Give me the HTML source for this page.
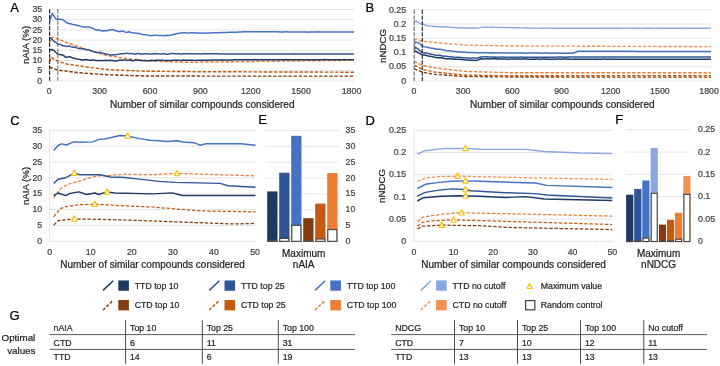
<!DOCTYPE html>
<html><head><meta charset="utf-8"><style>
html,body{margin:0;padding:0;background:#fff;}
body{width:720px;height:366px;overflow:hidden;}
svg{display:block;font-family:"Liberation Sans", sans-serif;will-change:transform;}
</style></head><body>
<svg width="720" height="366" viewBox="0 0 720 366" font-family='"Liberation Sans", sans-serif'>
<text x="10.30" y="11.80" font-size="13" text-anchor="start" fill="#000" stroke="#000" stroke-width="0.22" >A</text>
<line x1="49.50" y1="80.90" x2="354.00" y2="80.90" stroke="#DEDEDE" stroke-width="0.8" />
<text x="42.20" y="83.60" font-size="8.8" text-anchor="end" fill="#404040" stroke="#404040" stroke-width="0.22" >0</text>
<line x1="49.50" y1="70.70" x2="354.00" y2="70.70" stroke="#DEDEDE" stroke-width="0.8" />
<text x="42.20" y="73.40" font-size="8.8" text-anchor="end" fill="#404040" stroke="#404040" stroke-width="0.22" >5</text>
<line x1="49.50" y1="60.50" x2="354.00" y2="60.50" stroke="#DEDEDE" stroke-width="0.8" />
<text x="42.20" y="63.20" font-size="8.8" text-anchor="end" fill="#404040" stroke="#404040" stroke-width="0.22" >10</text>
<line x1="49.50" y1="50.30" x2="354.00" y2="50.30" stroke="#DEDEDE" stroke-width="0.8" />
<text x="42.20" y="53.00" font-size="8.8" text-anchor="end" fill="#404040" stroke="#404040" stroke-width="0.22" >15</text>
<line x1="49.50" y1="40.10" x2="354.00" y2="40.10" stroke="#DEDEDE" stroke-width="0.8" />
<text x="42.20" y="42.80" font-size="8.8" text-anchor="end" fill="#404040" stroke="#404040" stroke-width="0.22" >20</text>
<line x1="49.50" y1="29.90" x2="354.00" y2="29.90" stroke="#DEDEDE" stroke-width="0.8" />
<text x="42.20" y="32.60" font-size="8.8" text-anchor="end" fill="#404040" stroke="#404040" stroke-width="0.22" >25</text>
<line x1="49.50" y1="19.70" x2="354.00" y2="19.70" stroke="#DEDEDE" stroke-width="0.8" />
<text x="42.20" y="22.40" font-size="8.8" text-anchor="end" fill="#404040" stroke="#404040" stroke-width="0.22" >30</text>
<line x1="49.50" y1="9.50" x2="354.00" y2="9.50" stroke="#DEDEDE" stroke-width="0.8" />
<text x="42.20" y="12.20" font-size="8.8" text-anchor="end" fill="#404040" stroke="#404040" stroke-width="0.22" >35</text>
<text x="49.30" y="94.40" font-size="8.8" text-anchor="middle" fill="#404040" stroke="#404040" stroke-width="0.22" >0</text>
<text x="99.67" y="94.40" font-size="8.8" text-anchor="middle" fill="#404040" stroke="#404040" stroke-width="0.22" >300</text>
<text x="150.03" y="94.40" font-size="8.8" text-anchor="middle" fill="#404040" stroke="#404040" stroke-width="0.22" >600</text>
<text x="200.40" y="94.40" font-size="8.8" text-anchor="middle" fill="#404040" stroke="#404040" stroke-width="0.22" >900</text>
<text x="250.77" y="94.40" font-size="8.8" text-anchor="middle" fill="#404040" stroke="#404040" stroke-width="0.22" >1200</text>
<text x="301.13" y="94.40" font-size="8.8" text-anchor="middle" fill="#404040" stroke="#404040" stroke-width="0.22" >1500</text>
<text x="351.50" y="94.40" font-size="8.8" text-anchor="middle" fill="#404040" stroke="#404040" stroke-width="0.22" >1800</text>
<text x="202.20" y="107.60" font-size="10" text-anchor="middle" fill="#1e1e1e" stroke="#1e1e1e" stroke-width="0.22" >Number of similar compounds considered</text>
<text x="0" y="0" font-size="9.7" text-anchor="middle" fill="#1e1e1e" stroke="#1e1e1e" stroke-width="0.22" transform="translate(29,45) rotate(-90)">nAIA (%)</text>
<polyline points="49.50,67.20 57.70,70.00 77.80,72.70 110.00,74.90 145.00,76.00 200.00,76.10 354.00,76.10" fill="none" stroke="#843C0C" stroke-width="1.45" stroke-dasharray="3.4,1.7" stroke-linejoin="round"/>
<polyline points="49.50,61.80 51.00,57.40 57.70,61.30 66.80,64.00 88.00,67.20 110.00,69.80 145.00,71.20 200.00,71.70 354.00,72.20" fill="none" stroke="#C55A11" stroke-width="1.45" stroke-dasharray="3.4,1.7" stroke-linejoin="round"/>
<polyline points="49.50,43.20 50.50,39.00 52.00,37.30 57.70,38.80 66.80,42.60 77.80,46.50 90.90,50.90 106.00,55.20 121.00,57.80 145.00,60.70 183.80,62.30 249.40,61.50 354.00,60.30" fill="none" stroke="#ED7D31" stroke-width="1.45" stroke-dasharray="3.4,1.7" stroke-linejoin="round"/>
<polyline points="49.50,49.89 50.75,49.66 52.00,49.49 53.00,49.86 54.00,50.57 55.23,51.76 56.47,52.93 57.70,54.08 58.78,54.26 59.85,54.62 60.92,54.81 62.00,54.76 63.20,55.46 64.40,56.13 65.60,57.20 66.80,57.25 68.10,56.88 69.40,56.69 70.70,57.05 72.00,57.58 73.16,58.02 74.32,58.48 75.48,58.55 76.64,58.88 77.80,59.11 79.02,59.22 80.24,59.61 81.46,59.75 82.68,60.22 83.90,59.87 85.12,59.73 86.34,59.55 87.56,59.76 88.78,60.12 90.00,60.34 91.25,60.34 92.50,60.11 93.75,60.04 95.00,60.40 96.25,60.49 97.50,60.69 98.75,60.61 100.00,60.56 101.18,60.51 102.35,60.64 103.53,60.53 104.71,60.46 105.88,60.20 107.06,60.39 108.24,60.51 109.41,60.50 110.59,60.37 111.76,60.41 112.94,60.51 114.12,60.87 115.29,60.95 116.47,60.88 117.65,60.73 118.82,60.29 120.00,60.31 121.19,60.21 122.38,60.33 123.57,60.06 124.76,60.01 125.95,60.00 127.14,60.37 128.33,60.22 129.52,60.09 130.71,59.95 131.90,60.43 133.10,60.71 134.29,60.42 135.48,59.89 136.67,59.87 137.86,60.02 139.05,60.21 140.24,60.29 141.43,60.52 142.62,60.68 143.81,60.59 145.00,60.50 146.20,60.67 147.39,60.71 148.59,60.71 149.78,60.58 150.98,60.32 152.17,60.40 153.37,60.44 154.57,60.67 155.76,60.31 156.96,60.13 158.15,60.16 159.35,60.18 160.54,60.22 161.74,60.24 162.93,60.29 164.13,60.46 165.33,60.41 166.52,60.52 167.72,60.39 168.91,60.39 170.11,60.41 171.30,60.48 172.50,60.35 173.70,60.30 174.89,60.29 176.09,60.34 177.28,60.30 178.48,60.29 179.67,60.40 180.87,60.43 182.07,60.24 183.26,60.11 184.46,60.13 185.65,60.21 186.85,60.32 188.04,60.25 189.24,60.35 190.43,60.16 191.63,60.18 192.83,60.13 194.02,60.28 195.22,60.38 196.41,60.36 197.61,60.29 198.80,60.24 200.00,60.25 201.19,60.22 202.38,60.21 203.57,60.20 204.76,60.20 205.95,60.21 207.14,60.19 208.33,60.28 209.52,60.24 210.71,60.18 211.90,60.06 213.10,60.03 214.29,60.08 215.48,60.07 216.67,60.07 217.86,60.09 219.05,60.00 220.24,59.93 221.43,59.87 222.62,59.96 223.81,59.99 225.00,59.96 226.19,59.95 227.38,59.94 228.57,59.93 229.76,59.96 230.95,59.95 232.14,59.94 233.33,59.86 234.52,59.83 235.71,59.83 236.90,59.75 238.10,59.73 239.29,59.75 240.48,59.78 241.67,59.78 242.86,59.76 244.05,59.81 245.24,59.84 246.43,59.75 247.62,59.71 248.81,59.64 250.00,59.70 251.20,59.74 252.39,59.67 253.59,59.69 254.78,59.61 255.98,59.71 257.17,59.64 258.37,59.68 259.56,59.70 260.76,59.73 261.95,59.73 263.15,59.72 264.34,59.73 265.54,59.72 266.74,59.74 267.93,59.77 269.13,59.76 270.32,59.80 271.52,59.74 272.71,59.77 273.91,59.69 275.10,59.72 276.30,59.72 277.49,59.73 278.69,59.74 279.89,59.68 281.08,59.63 282.28,59.63 283.47,59.65 284.67,59.66 285.86,59.60 287.06,59.67 288.25,59.72 289.45,59.80 290.64,59.74 291.84,59.72 293.03,59.64 294.23,59.69 295.43,59.73 296.62,59.74 297.82,59.76 299.01,59.75 300.21,59.77 301.40,59.67 302.60,59.68 303.79,59.68 304.99,59.72 306.18,59.69 307.38,59.71 308.57,59.76 309.77,59.72 310.97,59.75 312.16,59.74 313.36,59.81 314.55,59.78 315.75,59.71 316.94,59.70 318.14,59.71 319.33,59.74 320.53,59.75 321.72,59.74 322.92,59.67 324.11,59.62 325.31,59.57 326.51,59.66 327.70,59.68 328.90,59.71 330.09,59.69 331.29,59.71 332.48,59.73 333.68,59.76 334.87,59.74 336.07,59.76 337.26,59.77 338.46,59.82 339.66,59.77 340.85,59.75 342.05,59.65 343.24,59.64 344.44,59.56 345.63,59.64 346.83,59.64 348.02,59.70 349.22,59.66 350.41,59.69 351.61,59.68 352.80,59.69 354.00,59.68" fill="none" stroke="#203864" stroke-width="1.5" stroke-linejoin="round"/>
<polyline points="49.50,37.34 50.75,38.40 52.00,39.36 53.50,40.80 55.00,41.90 56.35,42.70 57.70,44.13 58.78,44.22 59.85,44.39 60.92,44.55 62.00,45.26 63.20,45.77 64.40,46.10 65.60,46.34 66.80,46.46 68.10,46.08 69.40,46.04 70.70,46.61 72.00,46.94 73.16,47.23 74.32,47.22 75.48,47.37 76.64,47.87 77.80,48.13 79.04,48.67 80.28,48.39 81.52,48.85 82.76,48.82 84.00,49.06 85.17,49.38 86.33,49.68 87.50,49.86 88.67,49.80 89.83,50.14 91.00,50.71 92.12,51.21 93.25,51.49 94.38,51.90 95.50,52.01 96.62,52.31 97.75,52.51 98.88,52.73 100.00,52.33 101.25,52.66 102.50,53.10 103.75,53.69 105.00,53.74 106.25,54.13 107.50,54.18 108.75,54.62 110.00,54.98 111.25,55.01 112.50,54.93 113.75,54.74 115.00,54.75 116.25,54.62 117.50,54.36 118.75,54.13 120.00,53.92 121.25,53.72 122.50,53.87 123.75,53.77 125.00,53.59 126.18,53.34 127.35,53.31 128.53,53.48 129.71,53.66 130.88,53.61 132.06,53.39 133.24,53.76 134.41,54.04 135.59,54.25 136.76,53.57 137.94,53.52 139.12,53.52 140.29,54.08 141.47,54.07 142.65,54.02 143.82,53.89 145.00,53.62 146.20,53.75 147.39,53.73 148.59,53.88 149.78,53.91 150.98,54.08 152.17,54.00 153.37,53.77 154.57,53.60 155.76,53.78 156.96,53.81 158.15,53.67 159.35,53.88 160.54,54.03 161.74,54.00 162.93,53.65 164.13,53.72 165.33,53.93 166.52,54.24 167.72,54.15 168.91,53.97 170.11,53.82 171.30,53.55 172.50,53.56 173.70,53.54 174.89,53.78 176.09,53.78 177.28,53.77 178.48,53.77 179.67,53.86 180.87,53.92 182.07,53.90 183.26,53.84 184.46,53.85 185.65,53.84 186.85,53.80 188.04,53.70 189.24,53.70 190.43,53.75 191.63,53.80 192.83,53.80 194.02,53.82 195.22,53.80 196.41,53.72 197.61,53.74 198.80,53.81 200.00,53.91 201.19,53.88 202.38,53.85 203.57,53.78 204.76,53.69 205.95,53.68 207.14,53.69 208.33,53.83 209.52,53.78 210.71,53.71 211.90,53.64 213.10,53.76 214.29,53.86 215.48,53.86 216.67,53.77 217.86,53.81 219.05,53.89 220.24,53.92 221.43,53.96 222.62,53.96 223.81,53.96 225.00,53.94 226.19,53.97 227.38,54.00 228.57,54.02 229.76,53.94 230.95,53.92 232.14,53.91 233.33,53.94 234.52,53.98 235.71,53.98 236.90,54.02 238.10,53.99 239.29,54.05 240.48,54.06 241.67,54.07 242.86,54.00 244.05,54.05 245.24,54.05 246.43,54.07 247.62,54.03 248.81,54.05 250.00,53.99 251.20,53.97 252.39,53.98 253.59,54.05 254.78,54.06 255.98,54.05 257.17,54.05 258.37,54.04 259.56,54.04 260.76,54.02 261.95,54.00 263.15,54.01 264.34,53.98 265.54,53.97 266.74,53.95 267.93,53.94 269.13,53.95 270.32,53.89 271.52,53.91 272.71,53.94 273.91,54.01 275.10,54.03 276.30,54.01 277.49,53.95 278.69,54.01 279.89,54.03 281.08,54.10 282.28,54.02 283.47,54.00 284.67,53.92 285.86,53.97 287.06,54.00 288.25,53.99 289.45,53.97 290.64,53.96 291.84,53.97 293.03,53.92 294.23,53.87 295.43,53.90 296.62,53.91 297.82,53.94 299.01,53.97 300.21,54.03 301.40,54.04 302.60,54.08 303.79,54.09 304.99,54.04 306.18,53.98 307.38,53.92 308.57,53.93 309.77,53.94 310.97,53.97 312.16,54.01 313.36,53.97 314.55,53.93 315.75,53.92 316.94,53.96 318.14,53.99 319.33,53.98 320.53,53.97 321.72,54.00 322.92,54.01 324.11,54.03 325.31,53.99 326.51,53.97 327.70,53.90 328.90,53.89 330.09,53.90 331.29,53.93 332.48,53.96 333.68,53.97 334.87,53.97 336.07,53.96 337.26,53.95 338.46,54.00 339.66,54.02 340.85,54.03 342.05,53.99 343.24,53.97 344.44,53.97 345.63,54.01 346.83,54.03 348.02,54.01 349.22,53.95 350.41,53.93 351.61,53.93 352.80,53.94 354.00,53.92" fill="none" stroke="#2F5597" stroke-width="1.5" stroke-linejoin="round"/>
<polyline points="49.50,20.96 50.85,17.17 52.20,13.44 53.57,15.26 54.93,17.63 56.30,19.21 57.67,19.60 59.03,19.03 60.40,19.39 61.60,19.31 62.80,19.90 64.00,20.48 65.40,21.62 66.80,22.78 68.10,23.17 69.40,23.71 70.70,23.70 72.00,24.22 73.16,24.47 74.32,24.69 75.48,25.02 76.64,25.09 77.80,25.84 79.04,25.65 80.28,26.11 81.52,26.49 82.76,26.83 84.00,26.93 85.15,26.88 86.30,27.10 87.45,27.08 88.60,27.05 89.75,27.34 90.90,27.84 92.12,28.01 93.34,28.66 94.56,29.26 95.78,29.82 97.00,29.91 98.17,29.75 99.33,30.33 100.50,30.41 101.67,30.91 102.83,30.81 104.00,31.10 105.33,30.71 106.67,30.67 108.00,30.40 109.16,30.03 110.32,29.82 111.48,29.72 112.64,29.80 113.80,29.84 114.85,30.43 115.90,30.65 116.95,31.16 118.00,31.32 119.25,31.68 120.50,31.28 121.75,31.39 123.00,31.07 124.25,31.70 125.50,32.14 126.75,32.44 128.00,32.07 129.24,31.72 130.49,32.29 131.73,32.62 132.97,33.04 134.21,32.95 135.46,33.16 136.70,33.15 137.89,33.43 139.07,33.43 140.26,33.81 141.44,34.07 142.63,34.58 143.81,34.77 145.00,34.80 146.14,34.85 147.29,34.92 148.43,35.38 149.57,35.57 150.71,35.72 151.86,35.53 153.00,35.42 154.17,35.24 155.33,35.19 156.50,35.26 157.67,35.40 158.83,35.45 160.00,35.62 161.20,35.51 162.40,35.50 163.60,35.64 164.80,35.55 166.00,35.54 167.20,35.27 168.40,35.58 169.72,35.37 171.04,35.00 172.36,34.70 173.68,34.34 175.00,34.14 176.26,33.71 177.51,33.43 178.77,33.18 180.03,33.11 181.29,32.92 182.54,32.82 183.80,32.69 185.01,32.87 186.22,32.90 187.43,33.00 188.64,33.00 189.86,32.92 191.07,32.77 192.28,32.73 193.49,32.80 194.70,32.89 195.91,32.90 197.12,32.93 198.33,32.91 199.54,32.99 200.76,33.09 201.97,33.13 203.18,33.09 204.39,32.94 205.60,33.12 206.82,33.10 208.03,33.14 209.25,32.94 210.47,32.88 211.68,32.78 212.90,32.68 214.12,32.74 215.33,32.77 216.55,32.74 217.77,32.66 218.98,32.56 220.20,32.66 221.42,32.61 222.63,32.49 223.85,32.43 225.07,32.45 226.28,32.47 227.50,32.39 228.72,32.21 229.93,32.15 231.15,32.18 232.37,32.28 233.58,32.31 234.80,32.27 236.02,32.25 237.23,32.17 238.45,32.09 239.67,31.99 240.88,31.99 242.10,31.94 243.32,31.84 244.53,31.79 245.75,31.80 246.97,31.75 248.18,31.70 249.40,31.63 250.60,31.70 251.81,31.71 253.01,31.73 254.22,31.71 255.42,31.76 256.63,31.81 257.83,31.82 259.04,31.82 260.24,31.76 261.45,31.78 262.65,31.78 263.86,31.86 265.06,31.85 266.27,31.83 267.47,31.80 268.68,31.77 269.88,31.78 271.09,31.76 272.29,31.83 273.50,31.80 274.70,31.76 275.90,31.76 277.11,31.81 278.31,31.86 279.52,31.90 280.72,31.89 281.93,31.89 283.13,31.89 284.34,31.85 285.54,31.86 286.75,31.85 287.95,31.93 289.16,31.96 290.36,31.97 291.57,31.93 292.77,31.96 293.98,32.01 295.18,32.01 296.39,32.09 297.59,32.02 298.80,32.05 300.00,31.99 301.20,32.04 302.40,32.00 303.60,31.93 304.80,31.91 306.00,31.98 307.20,32.06 308.40,32.13 309.60,32.11 310.80,32.10 312.00,32.04 313.20,32.05 314.40,32.09 315.60,32.03 316.80,32.00 318.00,31.84 319.20,31.90 320.40,31.90 321.60,32.04 322.80,32.09 324.00,32.10 325.20,32.06 326.40,31.98 327.60,31.95 328.80,31.94 330.00,31.97 331.20,32.00 332.40,32.02 333.60,32.00 334.80,32.03 336.00,32.04 337.20,32.04 338.40,32.03 339.60,32.01 340.80,31.98 342.00,32.00 343.20,32.02 344.40,32.03 345.60,32.02 346.80,32.01 348.00,32.00 349.20,32.01 350.40,32.01 351.60,32.09 352.80,32.05 354.00,32.05" fill="none" stroke="#4472C4" stroke-width="1.5" stroke-linejoin="round"/>
<line x1="49.60" y1="9.20" x2="49.60" y2="80.80" stroke="#262626" stroke-width="1.2" stroke-dasharray="4.3,1.3" />
<line x1="57.80" y1="9.20" x2="57.80" y2="80.80" stroke="#7a7a7a" stroke-width="1.2" stroke-dasharray="4.3,1.3" />
<text x="365.50" y="11.80" font-size="13" text-anchor="start" fill="#000" stroke="#000" stroke-width="0.22" >B</text>
<line x1="414.00" y1="81.00" x2="711.00" y2="81.00" stroke="#DEDEDE" stroke-width="0.8" />
<text x="406.10" y="83.70" font-size="8.8" text-anchor="end" fill="#404040" stroke="#404040" stroke-width="0.22" >0</text>
<line x1="414.00" y1="66.76" x2="711.00" y2="66.76" stroke="#DEDEDE" stroke-width="0.8" />
<text x="406.10" y="69.46" font-size="8.8" text-anchor="end" fill="#404040" stroke="#404040" stroke-width="0.22" >0.05</text>
<line x1="414.00" y1="52.52" x2="711.00" y2="52.52" stroke="#DEDEDE" stroke-width="0.8" />
<text x="406.10" y="55.22" font-size="8.8" text-anchor="end" fill="#404040" stroke="#404040" stroke-width="0.22" >0.1</text>
<line x1="414.00" y1="38.28" x2="711.00" y2="38.28" stroke="#DEDEDE" stroke-width="0.8" />
<text x="406.10" y="40.98" font-size="8.8" text-anchor="end" fill="#404040" stroke="#404040" stroke-width="0.22" >0.15</text>
<line x1="414.00" y1="24.04" x2="711.00" y2="24.04" stroke="#DEDEDE" stroke-width="0.8" />
<text x="406.10" y="26.74" font-size="8.8" text-anchor="end" fill="#404040" stroke="#404040" stroke-width="0.22" >0.2</text>
<line x1="414.00" y1="9.80" x2="711.00" y2="9.80" stroke="#DEDEDE" stroke-width="0.8" />
<text x="406.10" y="12.50" font-size="8.8" text-anchor="end" fill="#404040" stroke="#404040" stroke-width="0.22" >0.25</text>
<text x="413.90" y="94.40" font-size="8.8" text-anchor="middle" fill="#404040" stroke="#404040" stroke-width="0.22" >0</text>
<text x="463.10" y="94.40" font-size="8.8" text-anchor="middle" fill="#404040" stroke="#404040" stroke-width="0.22" >300</text>
<text x="512.30" y="94.40" font-size="8.8" text-anchor="middle" fill="#404040" stroke="#404040" stroke-width="0.22" >600</text>
<text x="561.50" y="94.40" font-size="8.8" text-anchor="middle" fill="#404040" stroke="#404040" stroke-width="0.22" >900</text>
<text x="610.70" y="94.40" font-size="8.8" text-anchor="middle" fill="#404040" stroke="#404040" stroke-width="0.22" >1200</text>
<text x="659.90" y="94.40" font-size="8.8" text-anchor="middle" fill="#404040" stroke="#404040" stroke-width="0.22" >1500</text>
<text x="709.10" y="94.40" font-size="8.8" text-anchor="middle" fill="#404040" stroke="#404040" stroke-width="0.22" >1800</text>
<text x="562.30" y="107.60" font-size="10" text-anchor="middle" fill="#1e1e1e" stroke="#1e1e1e" stroke-width="0.22" >Number of similar compounds considered</text>
<text x="0" y="0" font-size="9.7" text-anchor="middle" fill="#1e1e1e" stroke="#1e1e1e" stroke-width="0.22" transform="translate(385.6,46) rotate(-90)">nNDCG</text>
<polyline points="414.20,68.80 422.30,72.10 435.00,74.40 465.00,76.50 510.00,77.00 711.00,77.20" fill="none" stroke="#843C0C" stroke-width="1.35" stroke-dasharray="3.4,1.7" stroke-linejoin="round"/>
<polyline points="414.20,66.10 415.20,65.60 422.30,69.40 435.00,72.10 465.00,75.00 510.00,75.80 711.00,75.60" fill="none" stroke="#C55A11" stroke-width="1.35" stroke-dasharray="3.4,1.7" stroke-linejoin="round"/>
<polyline points="414.20,62.30 415.20,61.80 422.30,65.30 435.00,67.90 465.00,71.40 510.00,72.70 711.00,72.80" fill="none" stroke="#ED7D31" stroke-width="1.35" stroke-dasharray="3.4,1.7" stroke-linejoin="round"/>
<polyline points="414.20,40.20 416.00,39.20 422.30,41.30 445.00,43.50 465.00,45.00 510.00,46.00 711.00,46.60" fill="none" stroke="#F2904F" stroke-width="1.35" stroke-dasharray="3.4,1.7" stroke-linejoin="round"/>
<polyline points="414.20,52.30 415.20,50.92 416.60,51.69 418.00,52.58 419.07,53.09 420.15,53.67 421.23,54.35 422.30,54.84 423.45,55.04 424.61,54.94 425.76,55.15 426.92,55.44 428.07,56.01 429.23,56.23 430.38,56.35 431.54,56.59 432.69,56.80 433.85,57.09 435.00,57.31 436.25,57.49 437.50,57.69 438.75,57.60 440.00,57.77 441.25,57.79 442.50,58.02 443.75,58.26 445.00,58.64 446.25,58.71 447.50,58.70 448.75,58.68 450.00,58.80 451.25,58.97 452.50,59.05 453.75,59.19 455.00,59.27 456.25,59.17 457.50,59.33 458.75,59.23 460.00,59.38 461.25,59.35 462.50,59.52 463.75,59.72 465.00,59.84 466.22,59.90 467.44,59.93 468.67,60.09 469.89,60.18 471.11,60.22 472.33,60.25 473.56,60.32 474.78,60.26 476.00,60.40 477.25,60.16 478.50,59.73 479.75,59.19 481.00,58.70 482.21,58.90 483.42,58.95 484.62,58.92 485.83,58.81 487.04,58.79 488.25,58.88 489.46,58.89 490.67,58.84 491.88,58.79 493.08,58.76 494.29,58.82 495.50,58.81 496.71,58.95 497.92,58.94 499.12,58.93 500.33,58.90 501.54,58.95 502.75,58.97 503.96,59.00 505.17,59.05 506.38,59.15 507.58,59.23 508.79,59.18 510.00,59.12 511.20,58.95 512.39,59.06 513.59,59.05 514.79,59.15 515.98,59.09 517.18,59.07 518.38,59.09 519.57,59.07 520.77,59.06 521.96,59.05 523.16,59.10 524.36,59.10 525.55,59.11 526.75,59.08 527.95,59.15 529.14,59.14 530.34,59.17 531.54,59.15 532.73,59.16 533.93,59.12 535.12,59.14 536.32,59.10 537.52,59.11 538.71,59.13 539.91,59.15 541.11,59.15 542.30,59.10 543.50,59.08 544.70,59.09 545.89,59.12 547.09,59.14 548.29,59.15 549.48,59.13 550.68,59.15 551.88,59.13 553.07,59.13 554.27,59.12 555.46,59.13 556.66,59.13 557.86,59.11 559.05,59.11 560.25,59.12 561.45,59.14 562.64,59.12 563.84,59.12 565.04,59.12 566.23,59.12 567.43,59.13 568.62,59.12 569.82,59.13 571.02,59.13 572.21,59.16 573.41,59.15 574.61,59.15 575.80,59.12 577.00,59.16 578.20,59.15 579.39,59.18 580.59,59.14 581.79,59.15 582.98,59.17 584.18,59.14 585.38,59.13 586.57,59.10 587.77,59.14 588.96,59.14 590.16,59.16 591.36,59.16 592.55,59.15 593.75,59.13 594.95,59.11 596.14,59.15 597.34,59.13 598.54,59.15 599.73,59.16 600.93,59.17 602.12,59.15 603.32,59.10 604.52,59.12 605.71,59.15 606.91,59.16 608.11,59.16 609.30,59.16 610.50,59.18 611.70,59.13 612.89,59.12 614.09,59.13 615.29,59.17 616.48,59.19 617.68,59.14 618.88,59.13 620.07,59.13 621.27,59.20 622.46,59.19 623.66,59.17 624.86,59.14 626.05,59.17 627.25,59.17 628.45,59.18 629.64,59.16 630.84,59.17 632.04,59.15 633.23,59.16 634.43,59.15 635.62,59.13 636.82,59.15 638.02,59.16 639.21,59.18 640.41,59.16 641.61,59.17 642.80,59.17 644.00,59.17 645.20,59.16 646.39,59.18 647.59,59.18 648.79,59.14 649.98,59.15 651.18,59.16 652.38,59.19 653.57,59.17 654.77,59.17 655.96,59.17 657.16,59.16 658.36,59.14 659.55,59.14 660.75,59.15 661.95,59.14 663.14,59.16 664.34,59.15 665.54,59.18 666.73,59.15 667.93,59.18 669.12,59.19 670.32,59.21 671.52,59.19 672.71,59.17 673.91,59.17 675.11,59.16 676.30,59.15 677.50,59.15 678.70,59.17 679.89,59.18 681.09,59.19 682.29,59.21 683.48,59.22 684.68,59.22 685.88,59.20 687.07,59.19 688.27,59.18 689.46,59.18 690.66,59.18 691.86,59.16 693.05,59.16 694.25,59.16 695.45,59.17 696.64,59.18 697.84,59.19 699.04,59.20 700.23,59.23 701.43,59.19 702.62,59.19 703.82,59.13 705.02,59.18 706.21,59.22 707.41,59.21 708.61,59.20 709.80,59.17 711.00,59.21" fill="none" stroke="#203864" stroke-width="1.5" stroke-linejoin="round"/>
<polyline points="414.20,49.54 415.20,47.07 416.60,48.05 418.00,48.88 419.07,50.04 420.15,50.78 421.23,51.71 422.30,52.55 423.45,52.84 424.61,52.92 425.76,52.93 426.92,53.10 428.07,53.38 429.23,53.90 430.38,54.01 431.54,54.18 432.69,54.37 433.85,54.67 435.00,55.00 436.25,55.30 437.50,55.36 438.75,55.22 440.00,55.28 441.25,55.68 442.50,56.11 443.75,56.27 445.00,56.24 446.25,56.25 447.50,56.43 448.75,56.57 450.00,56.64 451.25,56.56 452.50,56.94 453.75,57.34 455.00,57.45 456.25,57.26 457.50,57.20 458.75,57.28 460.00,57.53 461.25,57.59 462.50,57.64 463.75,57.73 465.00,57.77 466.22,57.95 467.44,57.93 468.67,58.03 469.89,58.11 471.11,58.14 472.33,58.11 473.56,58.01 474.78,58.05 476.00,58.21 477.25,57.96 478.50,57.65 479.75,57.34 481.00,56.95 482.21,56.91 483.42,56.84 484.62,56.71 485.83,56.77 487.04,56.85 488.25,57.02 489.46,57.04 490.67,57.01 491.88,57.05 493.08,57.07 494.29,57.13 495.50,57.12 496.71,57.14 497.92,57.18 499.12,57.14 500.33,57.12 501.54,57.03 502.75,57.03 503.96,57.14 505.17,57.27 506.38,57.31 507.58,57.28 508.79,57.26 510.00,57.31 511.20,57.33 512.39,57.23 513.59,57.17 514.79,57.14 515.98,57.24 517.18,57.26 518.38,57.21 519.57,57.15 520.77,57.12 521.96,57.12 523.16,57.18 524.36,57.18 525.55,57.20 526.75,57.22 527.95,57.27 529.14,57.27 530.34,57.19 531.54,57.17 532.73,57.20 533.93,57.23 535.12,57.24 536.32,57.20 537.52,57.20 538.71,57.17 539.91,57.17 541.11,57.18 542.30,57.16 543.50,57.15 544.70,57.13 545.89,57.14 547.09,57.14 548.29,57.14 549.48,57.18 550.68,57.19 551.88,57.18 553.07,57.13 554.27,57.14 555.46,57.14 556.66,57.16 557.86,57.11 559.05,57.11 560.25,57.09 561.45,57.11 562.64,57.11 563.84,57.13 565.04,57.13 566.23,57.11 567.43,57.13 568.62,57.11 569.82,57.10 571.02,57.07 572.21,57.07 573.41,57.08 574.61,57.07 575.80,57.09 577.00,57.08 578.20,57.08 579.39,57.10 580.59,57.12 581.79,57.12 582.98,57.10 584.18,57.09 585.38,57.09 586.57,57.09 587.77,57.09 588.96,57.06 590.16,57.05 591.36,57.03 592.55,57.07 593.75,57.06 594.95,57.08 596.14,57.10 597.34,57.09 598.54,57.07 599.73,57.02 600.93,57.00 602.12,56.98 603.32,57.01 604.52,57.03 605.71,57.03 606.91,57.00 608.11,57.02 609.30,57.03 610.50,57.04 611.70,57.04 612.89,57.06 614.09,57.10 615.29,57.10 616.48,57.08 617.68,57.06 618.88,57.07 620.07,57.08 621.27,57.07 622.46,57.05 623.66,57.04 624.86,57.04 626.05,57.02 627.25,57.00 628.45,56.99 629.64,56.97 630.84,57.01 632.04,57.02 633.23,57.02 634.43,57.02 635.62,57.03 636.82,57.02 638.02,57.02 639.21,57.02 640.41,57.07 641.61,57.03 642.80,57.02 644.00,57.00 645.20,57.01 646.39,57.01 647.59,57.01 648.79,56.99 649.98,56.97 651.18,56.93 652.38,56.94 653.57,56.95 654.77,56.97 655.96,56.98 657.16,56.99 658.36,56.97 659.55,56.96 660.75,56.97 661.95,56.99 663.14,57.00 664.34,56.98 665.54,56.99 666.73,56.97 667.93,56.99 669.12,56.98 670.32,56.98 671.52,56.98 672.71,56.95 673.91,56.97 675.11,56.95 676.30,56.95 677.50,56.94 678.70,56.92 679.89,56.96 681.09,56.94 682.29,56.95 683.48,56.93 684.68,56.94 685.88,56.94 687.07,56.93 688.27,56.94 689.46,56.93 690.66,56.94 691.86,56.89 693.05,56.91 694.25,56.90 695.45,56.91 696.64,56.90 697.84,56.90 699.04,56.94 700.23,56.92 701.43,56.94 702.62,56.92 703.82,56.96 705.02,56.94 706.21,56.95 707.41,56.91 708.61,56.89 709.80,56.90 711.00,56.90" fill="none" stroke="#2F5597" stroke-width="1.5" stroke-linejoin="round"/>
<polyline points="414.20,44.73 415.20,42.08 416.10,42.31 417.00,42.34 418.50,43.07 420.00,43.97 421.15,45.01 422.30,46.10 423.45,46.45 424.61,46.74 425.76,46.93 426.92,47.12 428.07,47.41 429.23,47.70 430.38,48.05 431.54,48.20 432.69,48.20 433.85,48.49 435.00,48.80 436.25,49.25 437.50,49.13 438.75,49.27 440.00,49.35 441.25,49.55 442.50,49.72 443.75,49.97 445.00,50.39 446.25,50.76 447.50,50.80 448.75,50.76 450.00,50.85 451.25,51.11 452.50,51.36 453.75,51.31 455.00,51.41 456.25,51.56 457.50,51.83 458.75,51.83 460.00,51.90 461.25,52.02 462.50,52.13 463.75,52.07 465.00,52.14 466.21,52.25 467.41,52.41 468.62,52.48 469.83,52.42 471.03,52.44 472.24,52.38 473.45,52.48 474.66,52.62 475.86,52.65 477.07,52.77 478.28,52.79 479.48,52.88 480.69,52.80 481.90,52.84 483.10,52.80 484.31,52.78 485.52,52.63 486.72,52.69 487.93,52.80 489.14,52.92 490.34,52.94 491.55,52.87 492.76,52.88 493.97,52.80 495.17,52.89 496.38,52.89 497.59,52.93 498.79,52.86 500.00,52.87 501.20,52.97 502.39,53.06 503.59,53.04 504.79,53.04 505.98,53.04 507.18,53.07 508.38,52.97 509.57,52.91 510.77,52.91 511.97,52.99 513.16,53.01 514.36,52.96 515.56,52.96 516.75,52.92 517.95,53.04 519.15,52.99 520.34,53.02 521.54,52.97 522.74,53.00 523.93,53.06 525.13,53.12 526.33,53.15 527.52,53.13 528.72,53.06 529.92,53.04 531.11,53.02 532.31,53.04 533.51,53.07 534.70,53.07 535.90,53.08 537.10,53.05 538.30,53.03 539.49,53.06 540.69,53.11 541.89,53.15 543.08,53.13 544.28,53.07 545.48,53.07 546.67,53.11 547.87,53.15 549.07,53.17 550.26,53.18 551.46,53.19 552.66,53.17 553.85,53.17 555.05,53.17 556.25,53.16 557.44,53.14 558.64,53.11 559.84,53.14 561.03,53.15 562.23,53.16 563.43,53.14 564.62,53.15 565.82,53.17 567.02,53.23 568.21,53.19 569.41,53.21 570.61,53.22 571.80,53.27 573.00,53.25 574.25,52.73 575.50,52.20 576.75,51.72 578.00,51.23 579.20,51.23 580.40,51.20 581.59,51.20 582.79,51.20 583.99,51.23 585.19,51.23 586.39,51.26 587.59,51.27 588.78,51.26 589.98,51.25 591.18,51.26 592.38,51.27 593.58,51.27 594.77,51.27 595.97,51.29 597.17,51.30 598.37,51.27 599.57,51.24 600.77,51.24 601.96,51.26 603.16,51.32 604.36,51.31 605.56,51.32 606.76,51.30 607.95,51.29 609.15,51.27 610.35,51.26 611.55,51.28 612.75,51.30 613.95,51.31 615.14,51.30 616.34,51.32 617.54,51.31 618.74,51.31 619.94,51.32 621.14,51.32 622.33,51.34 623.53,51.36 624.73,51.37 625.93,51.36 627.13,51.36 628.32,51.35 629.52,51.38 630.72,51.35 631.92,51.37 633.12,51.35 634.32,51.36 635.51,51.38 636.71,51.38 637.91,51.42 639.11,51.41 640.31,51.44 641.50,51.41 642.70,51.42 643.90,51.42 645.10,51.44 646.30,51.42 647.50,51.44 648.69,51.45 649.89,51.45 651.09,51.41 652.29,51.41 653.49,51.43 654.68,51.44 655.88,51.47 657.08,51.46 658.28,51.47 659.48,51.47 660.68,51.46 661.87,51.47 663.07,51.48 664.27,51.48 665.47,51.45 666.67,51.42 667.86,51.41 669.06,51.44 670.26,51.43 671.46,51.47 672.66,51.49 673.86,51.49 675.05,51.49 676.25,51.44 677.45,51.48 678.65,51.48 679.85,51.50 681.05,51.50 682.24,51.52 683.44,51.52 684.64,51.52 685.84,51.51 687.04,51.52 688.23,51.51 689.43,51.52 690.63,51.50 691.83,51.51 693.03,51.54 694.23,51.57 695.42,51.56 696.62,51.54 697.82,51.53 699.02,51.53 700.22,51.52 701.41,51.55 702.61,51.58 703.81,51.59 705.01,51.57 706.21,51.56 707.41,51.58 708.60,51.60 709.80,51.61 711.00,51.59" fill="none" stroke="#4472C4" stroke-width="1.5" stroke-linejoin="round"/>
<polyline points="414.20,21.09 415.30,20.68 416.58,21.47 417.86,22.30 419.14,22.73 420.42,23.52 421.70,24.18 422.89,24.29 424.07,24.48 425.26,24.98 426.44,25.33 427.63,25.82 428.81,25.75 430.00,26.08 431.21,26.10 432.41,26.45 433.62,26.43 434.82,26.54 436.03,26.55 437.23,26.66 438.44,26.72 439.64,26.67 440.85,26.73 442.06,26.76 443.26,26.66 444.47,26.80 445.67,26.79 446.88,26.98 448.08,27.02 449.29,27.26 450.49,27.42 451.70,27.64 452.91,27.51 454.12,27.47 455.33,27.53 456.54,27.70 457.75,27.92 458.95,27.76 460.16,27.83 461.37,27.81 462.58,27.96 463.79,27.94 465.00,28.04 466.21,27.98 467.42,27.94 468.63,27.78 469.84,27.95 471.05,28.01 472.25,28.07 473.46,27.96 474.67,28.02 475.88,28.05 477.09,28.13 478.30,28.15 479.43,27.84 480.57,27.43 481.70,27.11 482.88,27.13 484.05,27.22 485.23,27.25 486.41,27.31 487.58,27.19 488.76,27.17 489.94,27.12 491.11,27.31 492.29,27.27 493.46,27.29 494.64,27.25 495.82,27.34 496.99,27.45 498.17,27.46 499.35,27.54 500.52,27.44 501.70,27.39 502.90,27.42 504.09,27.54 505.29,27.66 506.49,27.63 507.68,27.66 508.88,27.61 510.08,27.66 511.27,27.64 512.47,27.75 513.67,27.74 514.87,27.71 516.06,27.64 517.26,27.71 518.46,27.80 519.65,27.85 520.85,27.84 522.05,27.85 523.24,27.87 524.44,27.89 525.64,27.93 526.83,28.01 528.03,28.03 529.23,28.10 530.42,28.12 531.62,28.18 532.82,28.18 534.02,28.16 535.21,28.14 536.41,28.14 537.61,28.14 538.80,28.16 540.00,28.17 541.20,28.22 542.41,28.23 543.61,28.23 544.82,28.17 546.02,28.17 547.23,28.17 548.43,28.18 549.63,28.16 550.84,28.14 552.04,28.16 553.25,28.18 554.45,28.24 555.65,28.23 556.86,28.23 558.06,28.22 559.27,28.22 560.47,28.22 561.68,28.20 562.88,28.19 564.08,28.21 565.29,28.23 566.49,28.26 567.70,28.23 568.90,28.22 570.11,28.18 571.31,28.20 572.51,28.18 573.72,28.20 574.92,28.20 576.13,28.24 577.33,28.22 578.54,28.22 579.74,28.19 580.94,28.19 582.15,28.16 583.35,28.19 584.56,28.22 585.76,28.23 586.96,28.20 588.17,28.18 589.37,28.22 590.58,28.24 591.78,28.24 592.99,28.18 594.19,28.16 595.39,28.18 596.60,28.23 597.80,28.24 599.01,28.21 600.21,28.18 601.42,28.16 602.62,28.18 603.82,28.17 605.03,28.21 606.23,28.18 607.44,28.17 608.64,28.16 609.85,28.18 611.05,28.20 612.25,28.20 613.46,28.19 614.66,28.19 615.87,28.20 617.07,28.19 618.27,28.21 619.48,28.21 620.68,28.24 621.89,28.19 623.09,28.17 624.30,28.16 625.50,28.20 626.70,28.19 627.91,28.18 629.11,28.14 630.32,28.16 631.52,28.17 632.73,28.18 633.93,28.17 635.13,28.18 636.34,28.22 637.54,28.24 638.75,28.23 639.95,28.19 641.15,28.17 642.36,28.16 643.56,28.18 644.77,28.19 645.97,28.22 647.18,28.23 648.38,28.21 649.58,28.21 650.79,28.22 651.99,28.24 653.20,28.20 654.40,28.17 655.61,28.15 656.81,28.17 658.01,28.19 659.22,28.18 660.42,28.17 661.63,28.19 662.83,28.21 664.04,28.22 665.24,28.24 666.44,28.22 667.65,28.22 668.85,28.19 670.06,28.21 671.26,28.20 672.46,28.22 673.67,28.22 674.87,28.22 676.08,28.23 677.28,28.23 678.49,28.23 679.69,28.21 680.89,28.18 682.10,28.17 683.30,28.18 684.51,28.19 685.71,28.24 686.92,28.25 688.12,28.26 689.32,28.21 690.53,28.19 691.73,28.17 692.94,28.19 694.14,28.18 695.35,28.21 696.55,28.20 697.75,28.23 698.96,28.17 700.16,28.18 701.37,28.17 702.57,28.21 703.77,28.21 704.98,28.22 706.18,28.21 707.39,28.18 708.59,28.17 709.80,28.13 711.00,28.14" fill="none" stroke="#8AA8DF" stroke-width="1.4" stroke-linejoin="round"/>
<line x1="414.20" y1="9.80" x2="414.20" y2="81.00" stroke="#707070" stroke-width="1.2" stroke-dasharray="4.3,1.3" />
<line x1="422.30" y1="9.80" x2="422.30" y2="81.00" stroke="#303030" stroke-width="1.2" stroke-dasharray="4.3,1.3" />
<text x="10.30" y="124.60" font-size="13" text-anchor="start" fill="#000" stroke="#000" stroke-width="0.22" >C</text>
<line x1="49.60" y1="241.30" x2="256.00" y2="241.30" stroke="#DEDEDE" stroke-width="0.8" />
<text x="42.20" y="244.00" font-size="8.8" text-anchor="end" fill="#404040" stroke="#404040" stroke-width="0.22" >0</text>
<line x1="49.60" y1="225.44" x2="256.00" y2="225.44" stroke="#DEDEDE" stroke-width="0.8" />
<text x="42.20" y="228.14" font-size="8.8" text-anchor="end" fill="#404040" stroke="#404040" stroke-width="0.22" >5</text>
<line x1="49.60" y1="209.58" x2="256.00" y2="209.58" stroke="#DEDEDE" stroke-width="0.8" />
<text x="42.20" y="212.28" font-size="8.8" text-anchor="end" fill="#404040" stroke="#404040" stroke-width="0.22" >10</text>
<line x1="49.60" y1="193.72" x2="256.00" y2="193.72" stroke="#DEDEDE" stroke-width="0.8" />
<text x="42.20" y="196.42" font-size="8.8" text-anchor="end" fill="#404040" stroke="#404040" stroke-width="0.22" >15</text>
<line x1="49.60" y1="177.86" x2="256.00" y2="177.86" stroke="#DEDEDE" stroke-width="0.8" />
<text x="42.20" y="180.56" font-size="8.8" text-anchor="end" fill="#404040" stroke="#404040" stroke-width="0.22" >20</text>
<line x1="49.60" y1="162.00" x2="256.00" y2="162.00" stroke="#DEDEDE" stroke-width="0.8" />
<text x="42.20" y="164.70" font-size="8.8" text-anchor="end" fill="#404040" stroke="#404040" stroke-width="0.22" >25</text>
<line x1="49.60" y1="146.14" x2="256.00" y2="146.14" stroke="#DEDEDE" stroke-width="0.8" />
<text x="42.20" y="148.84" font-size="8.8" text-anchor="end" fill="#404040" stroke="#404040" stroke-width="0.22" >30</text>
<line x1="49.60" y1="130.28" x2="256.00" y2="130.28" stroke="#DEDEDE" stroke-width="0.8" />
<text x="42.20" y="132.98" font-size="8.8" text-anchor="end" fill="#404040" stroke="#404040" stroke-width="0.22" >35</text>
<line x1="49.60" y1="130.30" x2="49.60" y2="241.30" stroke="#DEDEDE" stroke-width="0.8" />
<text x="49.60" y="255.10" font-size="8.8" text-anchor="middle" fill="#404040" stroke="#404040" stroke-width="0.22" >0</text>
<text x="90.70" y="255.10" font-size="8.8" text-anchor="middle" fill="#404040" stroke="#404040" stroke-width="0.22" >10</text>
<text x="131.80" y="255.10" font-size="8.8" text-anchor="middle" fill="#404040" stroke="#404040" stroke-width="0.22" >20</text>
<text x="172.90" y="255.10" font-size="8.8" text-anchor="middle" fill="#404040" stroke="#404040" stroke-width="0.22" >30</text>
<text x="214.00" y="255.10" font-size="8.8" text-anchor="middle" fill="#404040" stroke="#404040" stroke-width="0.22" >40</text>
<text x="255.10" y="255.10" font-size="8.8" text-anchor="middle" fill="#404040" stroke="#404040" stroke-width="0.22" >50</text>
<text x="152.50" y="267.50" font-size="10" text-anchor="middle" fill="#1e1e1e" stroke="#1e1e1e" stroke-width="0.22" >Number of similar compounds considered</text>
<text x="0" y="0" font-size="9.7" text-anchor="middle" fill="#1e1e1e" stroke="#1e1e1e" stroke-width="0.22" transform="translate(29.2,186) rotate(-90)">nAIA (%)</text>
<polyline points="53.70,225.10 58.10,220.70 66.90,219.60 74.10,219.00 90.00,219.20 110.60,219.60 125.00,220.00 200.00,222.70 234.00,224.00 255.50,223.40" fill="none" stroke="#843C0C" stroke-width="1.25" stroke-dasharray="3.4,1.7" stroke-linejoin="round"/>
<polyline points="53.70,216.80 60.30,208.70 66.90,206.50 77.80,204.80 94.80,204.30 110.60,205.00 125.00,205.90 152.00,207.00 200.00,210.90 255.50,211.90" fill="none" stroke="#C55A11" stroke-width="1.25" stroke-dasharray="3.4,1.7" stroke-linejoin="round"/>
<polyline points="53.70,197.80 60.30,189.00 66.90,184.70 77.80,181.40 88.70,178.10 97.50,175.90 110.00,175.50 125.00,174.20 150.00,174.80 175.70,173.50 200.00,174.20 255.50,175.80" fill="none" stroke="#ED7D31" stroke-width="1.25" stroke-dasharray="3.4,1.7" stroke-linejoin="round"/>
<polyline points="53.70,195.60 58.10,193.00 65.80,195.60 70.00,193.40 78.90,191.90 86.50,194.50 95.00,193.00 98.60,194.50 107.00,191.90 115.00,193.00 152.80,193.90 172.50,192.90 182.30,195.50 255.50,195.50" fill="none" stroke="#203864" stroke-width="1.45" stroke-linejoin="round"/>
<polyline points="53.70,183.60 58.10,179.20 65.80,177.70 74.20,173.30 80.00,174.80 99.60,174.80 110.60,177.00 125.00,177.50 139.00,179.10 159.30,181.40 175.00,182.40 220.00,183.40 228.00,185.70 255.50,187.30" fill="none" stroke="#2F5597" stroke-width="1.45" stroke-linejoin="round"/>
<polyline points="53.70,150.40 58.10,145.50 61.40,143.90 66.30,145.00 73.70,141.90 82.70,142.20 92.50,141.90 99.10,139.40 105.00,139.00 120.00,135.50 127.20,136.00 139.70,138.60 150.00,140.20 159.30,140.80 167.00,141.50 177.00,140.80 183.00,142.00 194.00,142.70 200.00,145.20 206.00,143.70 240.90,143.70 255.50,145.30" fill="none" stroke="#4472C4" stroke-width="1.45" stroke-linejoin="round"/>
<polygon points="125.00,138.20 130.40,138.20 127.70,132.80" fill="#fff" stroke="#FFC000" stroke-width="1.15" stroke-linejoin="round"/>
<polygon points="71.60,175.50 77.00,175.50 74.30,170.10" fill="#fff" stroke="#FFC000" stroke-width="1.15" stroke-linejoin="round"/>
<polygon points="174.30,175.70 179.70,175.70 177.00,170.30" fill="#fff" stroke="#FFC000" stroke-width="1.15" stroke-linejoin="round"/>
<polygon points="104.40,194.10 109.80,194.10 107.10,188.70" fill="#fff" stroke="#FFC000" stroke-width="1.15" stroke-linejoin="round"/>
<polygon points="92.10,206.50 97.50,206.50 94.80,201.10" fill="#fff" stroke="#FFC000" stroke-width="1.15" stroke-linejoin="round"/>
<polygon points="71.60,221.20 77.00,221.20 74.30,215.80" fill="#fff" stroke="#FFC000" stroke-width="1.15" stroke-linejoin="round"/>
<text x="258.30" y="124.40" font-size="13" text-anchor="start" fill="#000" stroke="#000" stroke-width="0.22" >E</text>
<line x1="265.70" y1="241.50" x2="338.40" y2="241.50" stroke="#DEDEDE" stroke-width="0.8" />
<text x="345.50" y="244.00" font-size="8.8" text-anchor="start" fill="#404040" stroke="#404040" stroke-width="0.22" >0</text>
<line x1="265.70" y1="225.64" x2="338.40" y2="225.64" stroke="#DEDEDE" stroke-width="0.8" />
<text x="345.50" y="228.14" font-size="8.8" text-anchor="start" fill="#404040" stroke="#404040" stroke-width="0.22" >5</text>
<line x1="265.70" y1="209.78" x2="338.40" y2="209.78" stroke="#DEDEDE" stroke-width="0.8" />
<text x="345.50" y="212.28" font-size="8.8" text-anchor="start" fill="#404040" stroke="#404040" stroke-width="0.22" >10</text>
<line x1="265.70" y1="193.92" x2="338.40" y2="193.92" stroke="#DEDEDE" stroke-width="0.8" />
<text x="345.50" y="196.42" font-size="8.8" text-anchor="start" fill="#404040" stroke="#404040" stroke-width="0.22" >15</text>
<line x1="265.70" y1="178.06" x2="338.40" y2="178.06" stroke="#DEDEDE" stroke-width="0.8" />
<text x="345.50" y="180.56" font-size="8.8" text-anchor="start" fill="#404040" stroke="#404040" stroke-width="0.22" >20</text>
<line x1="265.70" y1="162.20" x2="338.40" y2="162.20" stroke="#DEDEDE" stroke-width="0.8" />
<text x="345.50" y="164.70" font-size="8.8" text-anchor="start" fill="#404040" stroke="#404040" stroke-width="0.22" >25</text>
<line x1="265.70" y1="146.34" x2="338.40" y2="146.34" stroke="#DEDEDE" stroke-width="0.8" />
<text x="345.50" y="148.84" font-size="8.8" text-anchor="start" fill="#404040" stroke="#404040" stroke-width="0.22" >30</text>
<line x1="265.70" y1="130.48" x2="338.40" y2="130.48" stroke="#DEDEDE" stroke-width="0.8" />
<text x="345.50" y="132.98" font-size="8.8" text-anchor="start" fill="#404040" stroke="#404040" stroke-width="0.22" >35</text>
<rect x="267.20" y="191.40" width="10.30" height="50.50" fill="#203864"/>
<rect x="267.80" y="240.70" width="9.10" height="0.60" fill="#fff" stroke="#444" stroke-width="1.1"/>
<rect x="279.20" y="172.70" width="10.30" height="69.20" fill="#2F5597"/>
<rect x="279.80" y="238.40" width="9.10" height="2.90" fill="#fff" stroke="#444" stroke-width="1.1"/>
<rect x="291.20" y="135.80" width="10.30" height="106.10" fill="#4472C4"/>
<rect x="291.80" y="225.30" width="9.10" height="16.00" fill="#fff" stroke="#444" stroke-width="1.1"/>
<rect x="303.20" y="218.20" width="10.30" height="23.70" fill="#843C0C"/>
<rect x="303.80" y="240.90" width="9.10" height="0.40" fill="#fff" stroke="#444" stroke-width="1.1"/>
<rect x="315.20" y="203.60" width="10.30" height="38.30" fill="#C55A11"/>
<rect x="315.80" y="239.00" width="9.10" height="2.30" fill="#fff" stroke="#444" stroke-width="1.1"/>
<rect x="327.20" y="173.10" width="10.30" height="68.80" fill="#ED7D31"/>
<rect x="327.80" y="229.60" width="9.10" height="11.70" fill="#fff" stroke="#444" stroke-width="1.1"/>
<text x="303.70" y="256.70" font-size="10" text-anchor="middle" fill="#1e1e1e" stroke="#1e1e1e" stroke-width="0.22" >Maximum</text>
<text x="303.70" y="267.50" font-size="10" text-anchor="middle" fill="#1e1e1e" stroke="#1e1e1e" stroke-width="0.22" >nAIA</text>
<text x="365.40" y="124.60" font-size="13" text-anchor="start" fill="#000" stroke="#000" stroke-width="0.22" >D</text>
<line x1="413.90" y1="241.30" x2="612.40" y2="241.30" stroke="#DEDEDE" stroke-width="0.8" />
<text x="406.10" y="244.00" font-size="8.8" text-anchor="end" fill="#404040" stroke="#404040" stroke-width="0.22" >0</text>
<line x1="413.90" y1="219.10" x2="612.40" y2="219.10" stroke="#DEDEDE" stroke-width="0.8" />
<text x="406.10" y="221.80" font-size="8.8" text-anchor="end" fill="#404040" stroke="#404040" stroke-width="0.22" >0.05</text>
<line x1="413.90" y1="196.90" x2="612.40" y2="196.90" stroke="#DEDEDE" stroke-width="0.8" />
<text x="406.10" y="199.60" font-size="8.8" text-anchor="end" fill="#404040" stroke="#404040" stroke-width="0.22" >0.1</text>
<line x1="413.90" y1="174.70" x2="612.40" y2="174.70" stroke="#DEDEDE" stroke-width="0.8" />
<text x="406.10" y="177.40" font-size="8.8" text-anchor="end" fill="#404040" stroke="#404040" stroke-width="0.22" >0.15</text>
<line x1="413.90" y1="152.50" x2="612.40" y2="152.50" stroke="#DEDEDE" stroke-width="0.8" />
<text x="406.10" y="155.20" font-size="8.8" text-anchor="end" fill="#404040" stroke="#404040" stroke-width="0.22" >0.2</text>
<line x1="413.90" y1="130.30" x2="612.40" y2="130.30" stroke="#DEDEDE" stroke-width="0.8" />
<text x="406.10" y="133.00" font-size="8.8" text-anchor="end" fill="#404040" stroke="#404040" stroke-width="0.22" >0.25</text>
<line x1="414.10" y1="130.30" x2="414.10" y2="241.30" stroke="#DEDEDE" stroke-width="0.8" />
<text x="413.90" y="255.10" font-size="8.8" text-anchor="middle" fill="#404040" stroke="#404040" stroke-width="0.22" >0</text>
<text x="453.58" y="255.10" font-size="8.8" text-anchor="middle" fill="#404040" stroke="#404040" stroke-width="0.22" >10</text>
<text x="493.26" y="255.10" font-size="8.8" text-anchor="middle" fill="#404040" stroke="#404040" stroke-width="0.22" >20</text>
<text x="532.94" y="255.10" font-size="8.8" text-anchor="middle" fill="#404040" stroke="#404040" stroke-width="0.22" >30</text>
<text x="572.62" y="255.10" font-size="8.8" text-anchor="middle" fill="#404040" stroke="#404040" stroke-width="0.22" >40</text>
<text x="612.30" y="255.10" font-size="8.8" text-anchor="middle" fill="#404040" stroke="#404040" stroke-width="0.22" >50</text>
<line x1="413.90" y1="241.30" x2="413.90" y2="242.60" stroke="#D0D0D0" stroke-width="0.8" />
<line x1="421.84" y1="241.30" x2="421.84" y2="242.60" stroke="#D0D0D0" stroke-width="0.8" />
<line x1="429.77" y1="241.30" x2="429.77" y2="242.60" stroke="#D0D0D0" stroke-width="0.8" />
<line x1="437.71" y1="241.30" x2="437.71" y2="242.60" stroke="#D0D0D0" stroke-width="0.8" />
<line x1="445.64" y1="241.30" x2="445.64" y2="242.60" stroke="#D0D0D0" stroke-width="0.8" />
<line x1="453.58" y1="241.30" x2="453.58" y2="242.60" stroke="#D0D0D0" stroke-width="0.8" />
<line x1="461.52" y1="241.30" x2="461.52" y2="242.60" stroke="#D0D0D0" stroke-width="0.8" />
<line x1="469.45" y1="241.30" x2="469.45" y2="242.60" stroke="#D0D0D0" stroke-width="0.8" />
<line x1="477.39" y1="241.30" x2="477.39" y2="242.60" stroke="#D0D0D0" stroke-width="0.8" />
<line x1="485.32" y1="241.30" x2="485.32" y2="242.60" stroke="#D0D0D0" stroke-width="0.8" />
<line x1="493.26" y1="241.30" x2="493.26" y2="242.60" stroke="#D0D0D0" stroke-width="0.8" />
<line x1="501.20" y1="241.30" x2="501.20" y2="242.60" stroke="#D0D0D0" stroke-width="0.8" />
<line x1="509.13" y1="241.30" x2="509.13" y2="242.60" stroke="#D0D0D0" stroke-width="0.8" />
<line x1="517.07" y1="241.30" x2="517.07" y2="242.60" stroke="#D0D0D0" stroke-width="0.8" />
<line x1="525.00" y1="241.30" x2="525.00" y2="242.60" stroke="#D0D0D0" stroke-width="0.8" />
<line x1="532.94" y1="241.30" x2="532.94" y2="242.60" stroke="#D0D0D0" stroke-width="0.8" />
<line x1="540.88" y1="241.30" x2="540.88" y2="242.60" stroke="#D0D0D0" stroke-width="0.8" />
<line x1="548.81" y1="241.30" x2="548.81" y2="242.60" stroke="#D0D0D0" stroke-width="0.8" />
<line x1="556.75" y1="241.30" x2="556.75" y2="242.60" stroke="#D0D0D0" stroke-width="0.8" />
<line x1="564.68" y1="241.30" x2="564.68" y2="242.60" stroke="#D0D0D0" stroke-width="0.8" />
<line x1="572.62" y1="241.30" x2="572.62" y2="242.60" stroke="#D0D0D0" stroke-width="0.8" />
<line x1="580.56" y1="241.30" x2="580.56" y2="242.60" stroke="#D0D0D0" stroke-width="0.8" />
<line x1="588.49" y1="241.30" x2="588.49" y2="242.60" stroke="#D0D0D0" stroke-width="0.8" />
<line x1="596.43" y1="241.30" x2="596.43" y2="242.60" stroke="#D0D0D0" stroke-width="0.8" />
<line x1="604.36" y1="241.30" x2="604.36" y2="242.60" stroke="#D0D0D0" stroke-width="0.8" />
<line x1="612.30" y1="241.30" x2="612.30" y2="242.60" stroke="#D0D0D0" stroke-width="0.8" />
<text x="513.50" y="267.50" font-size="10" text-anchor="middle" fill="#1e1e1e" stroke="#1e1e1e" stroke-width="0.22" >Number of similar compounds considered</text>
<text x="0" y="0" font-size="9.7" text-anchor="middle" fill="#1e1e1e" stroke="#1e1e1e" stroke-width="0.22" transform="translate(385.3,186) rotate(-90)">nNDCG</text>
<polyline points="417.50,228.90 422.30,226.20 430.50,225.80 441.50,225.10 458.00,225.40 480.00,225.70 511.00,227.50 612.30,229.60" fill="none" stroke="#843C0C" stroke-width="1.25" stroke-dasharray="3.4,1.7" stroke-linejoin="round"/>
<polyline points="417.50,226.20 422.30,222.40 430.50,221.00 444.20,220.30 453.50,220.00 480.00,220.60 612.30,224.50" fill="none" stroke="#C55A11" stroke-width="1.25" stroke-dasharray="3.4,1.7" stroke-linejoin="round"/>
<polyline points="417.50,221.70 422.30,217.30 430.50,215.80 444.20,213.90 461.30,212.80 480.00,213.10 612.30,216.10" fill="none" stroke="#ED7D31" stroke-width="1.25" stroke-dasharray="3.4,1.7" stroke-linejoin="round"/>
<polyline points="417.30,181.50 425.30,178.00 439.00,176.70 457.40,176.10 480.00,176.70 612.30,179.40" fill="none" stroke="#F2904F" stroke-width="1.25" stroke-dasharray="3.4,1.7" stroke-linejoin="round"/>
<polyline points="417.30,201.00 423.50,197.70 440.60,196.20 457.80,195.80 480.00,196.20 505.00,197.50 526.00,196.60 544.00,199.00 612.30,200.50" fill="none" stroke="#203864" stroke-width="1.45" stroke-linejoin="round"/>
<polyline points="417.30,196.20 425.30,192.40 439.00,190.10 452.00,188.90 465.40,189.50 471.00,190.80 505.00,192.70 535.00,193.60 547.00,195.00 612.30,198.00" fill="none" stroke="#2F5597" stroke-width="1.45" stroke-linejoin="round"/>
<polyline points="417.30,188.50 425.30,184.30 439.00,182.40 452.00,181.30 465.40,180.90 480.00,181.30 535.00,183.00 547.00,185.40 612.30,187.50" fill="none" stroke="#4472C4" stroke-width="1.45" stroke-linejoin="round"/>
<polyline points="417.30,154.10 425.30,150.70 444.40,148.40 465.40,148.40 480.00,149.30 526.00,149.40 544.00,151.50 580.00,153.00 612.30,153.60" fill="none" stroke="#8AA8DF" stroke-width="1.45" stroke-linejoin="round"/>
<polygon points="462.80,150.60 468.20,150.60 465.50,145.20" fill="#fff" stroke="#FFC000" stroke-width="1.15" stroke-linejoin="round"/>
<polygon points="454.80,178.30 460.20,178.30 457.50,172.90" fill="#fff" stroke="#FFC000" stroke-width="1.15" stroke-linejoin="round"/>
<polygon points="462.80,183.10 468.20,183.10 465.50,177.70" fill="#fff" stroke="#FFC000" stroke-width="1.15" stroke-linejoin="round"/>
<polygon points="462.80,191.70 468.20,191.70 465.50,186.30" fill="#fff" stroke="#FFC000" stroke-width="1.15" stroke-linejoin="round"/>
<polygon points="462.80,198.00 468.20,198.00 465.50,192.60" fill="#fff" stroke="#FFC000" stroke-width="1.15" stroke-linejoin="round"/>
<polygon points="458.80,215.00 464.20,215.00 461.50,209.60" fill="#fff" stroke="#FFC000" stroke-width="1.15" stroke-linejoin="round"/>
<polygon points="450.90,222.20 456.30,222.20 453.60,216.80" fill="#fff" stroke="#FFC000" stroke-width="1.15" stroke-linejoin="round"/>
<polygon points="439.00,227.30 444.40,227.30 441.70,221.90" fill="#fff" stroke="#FFC000" stroke-width="1.15" stroke-linejoin="round"/>
<text x="615.30" y="124.40" font-size="13" text-anchor="start" fill="#000" stroke="#000" stroke-width="0.22" >F</text>
<line x1="625.70" y1="241.40" x2="689.80" y2="241.40" stroke="#DEDEDE" stroke-width="0.8" />
<text x="698.00" y="244.00" font-size="8.8" text-anchor="start" fill="#404040" stroke="#404040" stroke-width="0.22" >0</text>
<line x1="625.70" y1="219.07" x2="689.80" y2="219.07" stroke="#DEDEDE" stroke-width="0.8" />
<text x="698.00" y="221.67" font-size="8.8" text-anchor="start" fill="#404040" stroke="#404040" stroke-width="0.22" >0.05</text>
<line x1="625.70" y1="196.74" x2="689.80" y2="196.74" stroke="#DEDEDE" stroke-width="0.8" />
<text x="698.00" y="199.34" font-size="8.8" text-anchor="start" fill="#404040" stroke="#404040" stroke-width="0.22" >0.1</text>
<line x1="625.70" y1="174.41" x2="689.80" y2="174.41" stroke="#DEDEDE" stroke-width="0.8" />
<text x="698.00" y="177.01" font-size="8.8" text-anchor="start" fill="#404040" stroke="#404040" stroke-width="0.22" >0.15</text>
<line x1="625.70" y1="152.08" x2="689.80" y2="152.08" stroke="#DEDEDE" stroke-width="0.8" />
<text x="698.00" y="154.68" font-size="8.8" text-anchor="start" fill="#404040" stroke="#404040" stroke-width="0.22" >0.2</text>
<line x1="625.70" y1="129.75" x2="689.80" y2="129.75" stroke="#DEDEDE" stroke-width="0.8" />
<text x="698.00" y="132.35" font-size="8.8" text-anchor="start" fill="#404040" stroke="#404040" stroke-width="0.22" >0.25</text>
<rect x="626.10" y="194.70" width="7.20" height="47.40" fill="#203864"/>
<rect x="626.70" y="241.00" width="6.00" height="0.50" fill="#fff" stroke="#444" stroke-width="1.1"/>
<rect x="634.20" y="189.00" width="7.20" height="53.10" fill="#2F5597"/>
<rect x="634.80" y="240.80" width="6.00" height="0.70" fill="#fff" stroke="#444" stroke-width="1.1"/>
<rect x="642.30" y="180.50" width="7.20" height="61.60" fill="#4472C4"/>
<rect x="642.90" y="238.10" width="6.00" height="3.40" fill="#fff" stroke="#444" stroke-width="1.1"/>
<rect x="650.60" y="147.90" width="7.20" height="94.20" fill="#8AA8DF"/>
<rect x="651.20" y="193.30" width="6.00" height="48.20" fill="#fff" stroke="#444" stroke-width="1.1"/>
<rect x="658.90" y="224.60" width="7.20" height="17.50" fill="#843C0C"/>
<rect x="659.50" y="241.00" width="6.00" height="0.50" fill="#fff" stroke="#444" stroke-width="1.1"/>
<rect x="667.00" y="219.80" width="7.20" height="22.30" fill="#C55A11"/>
<rect x="667.60" y="240.80" width="6.00" height="0.70" fill="#fff" stroke="#444" stroke-width="1.1"/>
<rect x="675.00" y="212.80" width="7.20" height="29.30" fill="#ED7D31"/>
<rect x="675.60" y="239.20" width="6.00" height="2.30" fill="#fff" stroke="#444" stroke-width="1.1"/>
<rect x="683.30" y="176.10" width="7.20" height="66.00" fill="#F2904F"/>
<rect x="683.90" y="194.40" width="6.00" height="47.10" fill="#fff" stroke="#444" stroke-width="1.1"/>
<text x="658.60" y="257.00" font-size="10" text-anchor="middle" fill="#1e1e1e" stroke="#1e1e1e" stroke-width="0.22" >Maximum</text>
<text x="658.60" y="267.80" font-size="10" text-anchor="middle" fill="#1e1e1e" stroke="#1e1e1e" stroke-width="0.22" >nNDCG</text>
<line x1="103.00" y1="290.40" x2="113.20" y2="280.80" stroke="#203864" stroke-width="1.5" />
<rect x="118.30" y="280.45" width="10.6" height="10.3" fill="#203864"/>
<text x="134.70" y="288.80" font-size="8.75" text-anchor="start" fill="#262626" stroke="#262626" stroke-width="0.22" >TTD top 10</text>
<line x1="103.00" y1="310.00" x2="113.20" y2="300.40" stroke="#843C0C" stroke-width="1.5" stroke-dasharray="3,1.8" />
<rect x="118.30" y="300.05" width="10.6" height="10.3" fill="#843C0C"/>
<text x="134.70" y="308.40" font-size="8.75" text-anchor="start" fill="#262626" stroke="#262626" stroke-width="0.22" >CTD top 10</text>
<line x1="209.20" y1="290.40" x2="219.40" y2="280.80" stroke="#2F5597" stroke-width="1.5" />
<rect x="224.50" y="280.45" width="10.6" height="10.3" fill="#2F5597"/>
<text x="240.90" y="288.80" font-size="8.75" text-anchor="start" fill="#262626" stroke="#262626" stroke-width="0.22" >TTD top 25</text>
<line x1="209.20" y1="310.00" x2="219.40" y2="300.40" stroke="#C55A11" stroke-width="1.5" stroke-dasharray="3,1.8" />
<rect x="224.50" y="300.05" width="10.6" height="10.3" fill="#C55A11"/>
<text x="240.90" y="308.40" font-size="8.75" text-anchor="start" fill="#262626" stroke="#262626" stroke-width="0.22" >CTD top 25</text>
<line x1="315.00" y1="290.40" x2="325.20" y2="280.80" stroke="#4472C4" stroke-width="1.5" />
<rect x="330.30" y="280.45" width="10.6" height="10.3" fill="#4472C4"/>
<text x="346.70" y="288.80" font-size="8.75" text-anchor="start" fill="#262626" stroke="#262626" stroke-width="0.22" >TTD top 100</text>
<line x1="315.00" y1="310.00" x2="325.20" y2="300.40" stroke="#ED7D31" stroke-width="1.5" stroke-dasharray="3,1.8" />
<rect x="330.30" y="300.05" width="10.6" height="10.3" fill="#ED7D31"/>
<text x="346.70" y="308.40" font-size="8.75" text-anchor="start" fill="#262626" stroke="#262626" stroke-width="0.22" >CTD top 100</text>
<line x1="420.80" y1="290.40" x2="431.00" y2="280.80" stroke="#8AA8DF" stroke-width="1.5" />
<rect x="436.10" y="280.45" width="10.6" height="10.3" fill="#8AA8DF"/>
<text x="452.50" y="288.80" font-size="8.75" text-anchor="start" fill="#262626" stroke="#262626" stroke-width="0.22" >TTD no cutoff</text>
<line x1="420.80" y1="310.00" x2="431.00" y2="300.40" stroke="#F2904F" stroke-width="1.5" stroke-dasharray="3,1.8" />
<rect x="436.10" y="300.05" width="10.6" height="10.3" fill="#F2904F"/>
<text x="452.50" y="308.40" font-size="8.75" text-anchor="start" fill="#262626" stroke="#262626" stroke-width="0.22" >CTD no cutoff</text>
<polygon points="527.10,288.50 532.10,288.50 529.60,283.50" fill="#fff" stroke="#FFC000" stroke-width="1.2" stroke-linejoin="round"/>
<text x="540.80" y="288.80" font-size="8.75" text-anchor="start" fill="#262626" stroke="#262626" stroke-width="0.22" >Maximum value</text>
<rect x="525.6" y="300.6" width="9.2" height="9.2" fill="#fff" stroke="#404040" stroke-width="1.2"/>
<text x="540.80" y="308.40" font-size="8.75" text-anchor="start" fill="#262626" stroke="#262626" stroke-width="0.22" >Random control</text>
<text x="9.50" y="320.20" font-size="13" text-anchor="start" fill="#000" stroke="#000" stroke-width="0.22" >G</text>
<text x="18.40" y="341.10" font-size="9.8" text-anchor="middle" fill="#1e1e1e" stroke="#1e1e1e" stroke-width="0.22" >Optimal</text>
<text x="21.30" y="353.60" font-size="9.8" text-anchor="middle" fill="#1e1e1e" stroke="#1e1e1e" stroke-width="0.22" >values</text>
<line x1="49.60" y1="334.60" x2="355.00" y2="334.60" stroke="#5a5a5a" stroke-width="1" />
<line x1="49.60" y1="349.40" x2="355.00" y2="349.40" stroke="#5a5a5a" stroke-width="1" />
<line x1="125.60" y1="320.20" x2="125.60" y2="363.80" stroke="#4a4a4a" stroke-width="1" />
<line x1="202.30" y1="320.20" x2="202.30" y2="363.80" stroke="#4a4a4a" stroke-width="1" />
<line x1="278.30" y1="320.20" x2="278.30" y2="363.80" stroke="#4a4a4a" stroke-width="1" />
<text x="53.60" y="330.90" font-size="8.75" text-anchor="start" fill="#262626" stroke="#262626" stroke-width="0.22" >nAIA</text>
<text x="130.00" y="330.90" font-size="8.75" text-anchor="start" fill="#262626" stroke="#262626" stroke-width="0.22" >Top 10</text>
<text x="206.70" y="330.90" font-size="8.75" text-anchor="start" fill="#262626" stroke="#262626" stroke-width="0.22" >Top 25</text>
<text x="282.70" y="330.90" font-size="8.75" text-anchor="start" fill="#262626" stroke="#262626" stroke-width="0.22" >Top 100</text>
<text x="53.60" y="345.60" font-size="8.75" text-anchor="start" fill="#262626" stroke="#262626" stroke-width="0.22" >CTD</text>
<text x="130.00" y="345.60" font-size="8.75" text-anchor="start" fill="#262626" stroke="#262626" stroke-width="0.22" >6</text>
<text x="206.70" y="345.60" font-size="8.75" text-anchor="start" fill="#262626" stroke="#262626" stroke-width="0.22" >11</text>
<text x="282.70" y="345.60" font-size="8.75" text-anchor="start" fill="#262626" stroke="#262626" stroke-width="0.22" >31</text>
<text x="53.60" y="360.00" font-size="8.75" text-anchor="start" fill="#262626" stroke="#262626" stroke-width="0.22" >TTD</text>
<text x="130.00" y="360.00" font-size="8.75" text-anchor="start" fill="#262626" stroke="#262626" stroke-width="0.22" >14</text>
<text x="206.70" y="360.00" font-size="8.75" text-anchor="start" fill="#262626" stroke="#262626" stroke-width="0.22" >6</text>
<text x="282.70" y="360.00" font-size="8.75" text-anchor="start" fill="#262626" stroke="#262626" stroke-width="0.22" >19</text>
<line x1="391.20" y1="334.60" x2="707.00" y2="334.60" stroke="#5a5a5a" stroke-width="1" />
<line x1="391.20" y1="349.40" x2="707.00" y2="349.40" stroke="#5a5a5a" stroke-width="1" />
<line x1="454.50" y1="320.20" x2="454.50" y2="363.80" stroke="#4a4a4a" stroke-width="1" />
<line x1="517.50" y1="320.20" x2="517.50" y2="363.80" stroke="#4a4a4a" stroke-width="1" />
<line x1="580.50" y1="320.20" x2="580.50" y2="363.80" stroke="#4a4a4a" stroke-width="1" />
<line x1="643.80" y1="320.20" x2="643.80" y2="363.80" stroke="#4a4a4a" stroke-width="1" />
<text x="395.20" y="330.90" font-size="8.75" text-anchor="start" fill="#262626" stroke="#262626" stroke-width="0.22" >NDCG</text>
<text x="458.90" y="330.90" font-size="8.75" text-anchor="start" fill="#262626" stroke="#262626" stroke-width="0.22" >Top 10</text>
<text x="521.90" y="330.90" font-size="8.75" text-anchor="start" fill="#262626" stroke="#262626" stroke-width="0.22" >Top 25</text>
<text x="584.90" y="330.90" font-size="8.75" text-anchor="start" fill="#262626" stroke="#262626" stroke-width="0.22" >Top 100</text>
<text x="648.20" y="330.90" font-size="8.75" text-anchor="start" fill="#262626" stroke="#262626" stroke-width="0.22" >No cutoff</text>
<text x="395.20" y="345.60" font-size="8.75" text-anchor="start" fill="#262626" stroke="#262626" stroke-width="0.22" >CTD</text>
<text x="458.90" y="345.60" font-size="8.75" text-anchor="start" fill="#262626" stroke="#262626" stroke-width="0.22" >7</text>
<text x="521.90" y="345.60" font-size="8.75" text-anchor="start" fill="#262626" stroke="#262626" stroke-width="0.22" >10</text>
<text x="584.90" y="345.60" font-size="8.75" text-anchor="start" fill="#262626" stroke="#262626" stroke-width="0.22" >12</text>
<text x="648.20" y="345.60" font-size="8.75" text-anchor="start" fill="#262626" stroke="#262626" stroke-width="0.22" >11</text>
<text x="395.20" y="360.00" font-size="8.75" text-anchor="start" fill="#262626" stroke="#262626" stroke-width="0.22" >TTD</text>
<text x="458.90" y="360.00" font-size="8.75" text-anchor="start" fill="#262626" stroke="#262626" stroke-width="0.22" >13</text>
<text x="521.90" y="360.00" font-size="8.75" text-anchor="start" fill="#262626" stroke="#262626" stroke-width="0.22" >13</text>
<text x="584.90" y="360.00" font-size="8.75" text-anchor="start" fill="#262626" stroke="#262626" stroke-width="0.22" >13</text>
<text x="648.20" y="360.00" font-size="8.75" text-anchor="start" fill="#262626" stroke="#262626" stroke-width="0.22" >13</text>
</svg>
</body></html>
